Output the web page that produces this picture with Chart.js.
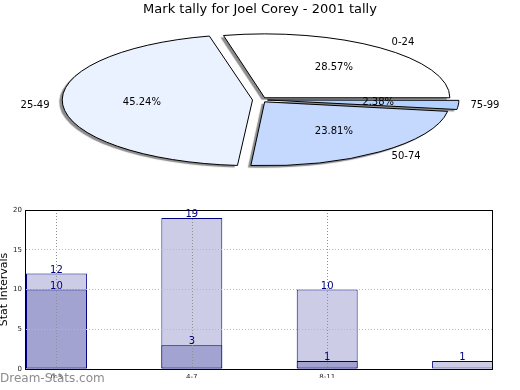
<!DOCTYPE html>
<html>
<head>
<meta charset="utf-8">
<script src="https://cdn.jsdelivr.net/npm/chart.js@4.4.1/dist/chart.umd.min.js"></script>
<style>
  html, body { margin: 0; padding: 0; background: #fff; }
  #wrap { position: relative; width: 520px; height: 390px; overflow: hidden; font-family: "DejaVu Sans", sans-serif; }
  canvas { position: absolute; left: 0; }
  #pie  { top: 0; }
  #bars { top: 190px; }
  #band { position: absolute; left: 0; top: 378px; width: 520px; height: 12px; background: #fff; }
  #mark { position: absolute; left: 0; top: 371px; font-size: 12px; line-height: 14px; color: #8c8c8c; }
</style>
</head>
<body>
<div id="wrap">
  <canvas id="pie" width="520" height="176"></canvas>
  <canvas id="bars" width="520" height="200"></canvas>
  <div id="band"></div>
  <div id="mark">Dream-Stats.com</div>
</div>
<script>
const pieTitle    = 'Mark tally for Joel Corey - 2001 tally'
const markRanges  = ['0-24', '25-49', '50-74', '75-99']
const markCounts  = [12, 19, 10, 1]
const sliceColors = ['#ffffff', '#eaf1ff', '#c5d9ff', '#b3d1ff']

const statPos    = [0, 1, 2, 3]
const tickLabels = ['0-3', '4-7', '8-11']
const totalStats = [12, 19, 10, 1]
const innerStats = [10, 3, 1, 0]
const yTicks     = [0, 5, 10, 15, 20]

Chart.defaults.font.family = '"DejaVu Sans", sans-serif'

// matplotlib-style squashed pie: flatten vertically (and flip so slices run counter-clockwise)
const SQUASH = 0.345

const flatPie = {
  id: 'flatPie',
  beforeDatasetsDraw(chart) {
    const ctx  = chart.ctx
    const arc  = chart.getDatasetMeta(0).data[0]
    const base = ctx.getTransform()
    ctx.save()
    ctx.translate(arc.x, arc.y)
    ctx.scale(1, -SQUASH)
    ctx.translate(-arc.x, -arc.y)
    ctx.shadowColor   = 'rgba(0,0,0,0.45)'
    ctx.shadowOffsetX = -3
    ctx.shadowOffsetY = 2
    ctx.shadowBlur    = 1
    // outlines: 1px whatever the squash, and no shadow of their own
    const stroke = ctx.stroke
    ctx.stroke = function () {
      this.save()
      this.setTransform(base)
      this.shadowColor = 'transparent'
      stroke.call(this)
      this.restore()
    }
  },
  afterDatasetsDraw(chart) {
    delete chart.ctx.stroke
    chart.ctx.restore()
  },
  afterDraw(chart) {
    const ctx   = chart.ctx
    const total = markCounts.reduce((a, b) => a + b, 0)
    ctx.save()
    ctx.font = '10px "DejaVu Sans"'
    ctx.fillStyle = '#000'
    ctx.textBaseline = 'middle'
    chart.getDatasetMeta(0).data.forEach((arc, i) => {
      const mid   = (arc.startAngle + arc.endAngle) / 2
      const shift = arc.options.offset / 4
      const at = r => [arc.x + r * Math.cos(mid), arc.y - SQUASH * r * Math.sin(mid)]

      const [lx, ly] = at(shift + 1.1 * arc.outerRadius)
      ctx.textAlign = Math.cos(mid) > 0 ? 'left' : 'right'
      ctx.fillText(markRanges[i], lx, ly)

      const [px, py] = at(shift + 0.6 * arc.outerRadius)
      ctx.textAlign = 'center'
      ctx.fillText((markCounts[i] / total * 100).toFixed(2) + '%', px, py)
    })
    ctx.restore()
  }
}

new Chart(document.getElementById('pie'), {
  type: 'pie',
  data: {
    labels: markRanges,
    datasets: [{
      data: markCounts,
      backgroundColor: sliceColors,
      borderColor: '#000',
      borderWidth: 1,
      offset: 30,
      clip: false,
    }]
  },
  options: {
    responsive: false,
    animation: false,
    devicePixelRatio: 1,
    events: [],
    rotation: 90,
    radius: 185,
    layout: { padding: 0 },
    plugins: {
      legend:  { display: false },
      tooltip: { enabled: false },
      title: {
        display: true, text: pieTitle, color: '#000',
        font: { size: 13, weight: 'normal' },
        padding: { top: 2, bottom: 6 },
      },
    },
  },
  plugins: [flatPie],
})

// dotted vertical lines at the x ticks, drawn over the bars
const tickGrid = {
  id: 'tickGrid',
  afterDatasetsDraw(chart) {
    const { ctx, chartArea: a, scales: { x } } = chart
    ctx.save()
    ctx.strokeStyle = '#8f8f8f'
    ctx.lineWidth = 1
    ctx.setLineDash([1, 2])
    x.ticks.forEach(t => {
      const px = Math.round(x.getPixelForValue(t.value)) + 0.5
      ctx.beginPath()
      ctx.moveTo(px, a.top)
      ctx.lineTo(px, a.bottom)
      ctx.stroke()
    })
    ctx.restore()
  }
}

const frame = {
  id: 'frame',
  afterDraw(chart) {
    const { ctx, chartArea: a } = chart
    ctx.save()
    ctx.strokeStyle = '#000'
    ctx.lineWidth = 1
    ctx.strokeRect(a.left - 0.5, a.top + 0.5, a.right - a.left, a.bottom - a.top)
    ctx.restore()
  }
}

const barLabels = {
  id: 'barLabels',
  afterDraw(chart) {
    const ctx = chart.ctx
    ctx.save()
    ctx.font = '10px "DejaVu Sans"'
    ctx.fillStyle = '#000080'
    ctx.textAlign = 'center'
    ctx.textBaseline = 'alphabetic'
    chart.data.datasets.forEach((ds, d) => {
      chart.getDatasetMeta(d).data.forEach((bar, i) => {
        const v = ds.data[i].y
        if (v) ctx.fillText(String(v), bar.x, bar.y - 1)
      })
    })
    ctx.restore()
  }
}

const tickFont = { size: 7 }

new Chart(document.getElementById('bars'), {
  type: 'bar',
  data: {
    datasets: [
      { data: statPos.map((x, i) => ({ x, y: innerStats[i] })), backgroundColor: '#a3a3d1' },
      { data: statPos.map((x, i) => ({ x, y: totalStats[i] })), backgroundColor: '#ccccE6' },
    ]
  },
  options: {
    responsive: false,
    animation: false,
    devicePixelRatio: 1,
    events: [],
    layout: { padding: { top: 20, right: 27, left: 0, bottom: 0 } },
    datasets: {
      bar: {
        grouped: false,
        categoryPercentage: 0.45,
        barPercentage: 1,
        borderColor: '#000080',
        borderWidth: 1,
        borderSkipped: false,
      }
    },
    plugins: {
      legend:  { display: false },
      tooltip: { enabled: false },
    },
    scales: {
      x: {
        type: 'linear', bounds: 'data', min: -0.225, max: 3.225, offset: false,
        afterBuildTicks: s => { s.ticks = tickLabels.map((_, value) => ({ value })) },
        afterFit: s => { s.height = 21 },
        ticks: { callback: v => tickLabels[v], font: tickFont, color: '#222', padding: 4, maxRotation: 0 },
        grid: { display: false, drawTicks: false },
        border: { display: false },
      },
      y: {
        min: 0, max: 20,
        afterBuildTicks: s => { s.ticks = yTicks.map(value => ({ value })) },
        afterFit: s => { s.width = 26 },
        ticks: { font: tickFont, color: '#222', padding: 4 },
        grid: { color: '#b8b8b8', lineWidth: 1, drawTicks: false, z: 1 },
        border: { display: false, dash: [1, 2] },
        title: {
          display: true, text: 'Stat Intervals', color: '#000',
          font: { size: 11 }, padding: { top: -2, bottom: 0 },
        },
      },
    },
  },
  plugins: [tickGrid, frame, barLabels],
})
</script>
</body>
</html>
